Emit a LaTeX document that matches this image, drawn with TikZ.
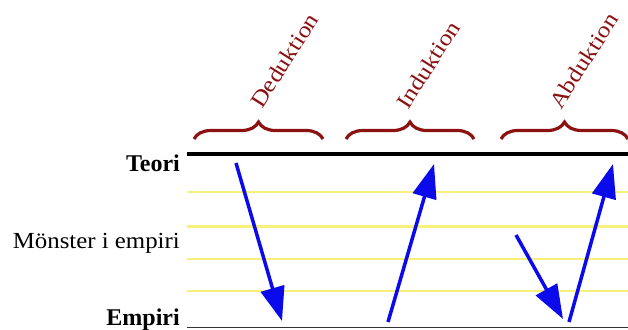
\documentclass[tikz,border=0pt]{standalone}
\usepackage{fontspec}
\setmainfont{Liberation Serif}
\newfontfamily\widefont[FakeStretch=1.13]{Liberation Serif}
\newfontfamily\levelfont[FakeStretch=1.08]{Liberation Serif}
\usetikzlibrary{arrows.meta,decorations.pathreplacing}
\definecolor{braceRed}{RGB}{140,18,18}
\definecolor{arrowBlue}{RGB}{10,10,235}
\definecolor{paleYellow}{RGB}{248,240,120}
\tikzset{
  x=1pt, y=-1pt,
  levellabel/.style={anchor=base east, inner sep=0pt, font=\fontsize{24}{24}\selectfont},
  rungline/.style={paleYellow, line width=2pt},
  methodbrace/.style={braceRed, line width=3.2pt,
    decorate, decoration={brace, amplitude=17pt}},
  methodlabel/.style={braceRed, rotate=57.5, anchor=base west, inner sep=0pt,
    font=\widefont\fontsize{22.5}{22.5}\selectfont},
  flow/.style={arrowBlue, line width=3.5pt,
    -{Triangle[length=34pt,width=24pt]}},
}
\begin{document}
\begin{tikzpicture}
\useasboundingbox (0,0) rectangle (628,329);

% level labels
\node[levellabel, font=\fontsize{24}{24}\selectfont\bfseries] (teori) at (180,171) {Teori};
\node[levellabel, font=\levelfont\fontsize{23}{23}\selectfont] (monster) at (180,248) {Mönster i empiri};
\node[levellabel, font=\fontsize{24}{24}\selectfont\bfseries] (empiri) at (180,325) {Empiri};

% rungs between theory and empirics
\draw[rungline] (187,192) -- (628,192);
\draw[rungline, line width=3pt] (187,226) -- (628,226);
\draw[rungline] (187,259) -- (628,259);
\draw[rungline] (187,291) -- (628,291);

% theory line and empirics line
\draw[black, line width=4pt] (187,154) -- (628,154);
\draw[black!80, line width=1.2pt] (187,327.5) -- (628,327.5);

% braces over the three methods
\draw[methodbrace] (194,139) -- (323,139);
\draw[methodbrace] (346,139) -- (474,139);
\draw[methodbrace] (501,139) -- (628,139);

\coordinate (t1) at (262,110);
\coordinate (t2) at (408,111);
\coordinate (t3) at (561,111);
\node[methodlabel] (ded) at (t1) {Deduktion};
\node[methodlabel] (ind) at (t2) {Induktion};
\node[methodlabel] (abd) at (t3) {Abduktion};

% reasoning directions
\coordinate (d0) at (236,163);
\coordinate (d1) at (282,321);
\coordinate (i0) at (388,322);
\coordinate (i1) at (434,164);
\coordinate (a0) at (516,235);
\coordinate (a1) at (563,319);
\coordinate (a2) at (569,322);
\coordinate (a3) at (613,164);
\draw[flow] (d0) -- (d1);
\draw[flow] (i0) -- (i1);
\draw[flow] (a0) -- (a1);
\draw[flow] (a2) -- (a3);
\end{tikzpicture}
\end{document}
